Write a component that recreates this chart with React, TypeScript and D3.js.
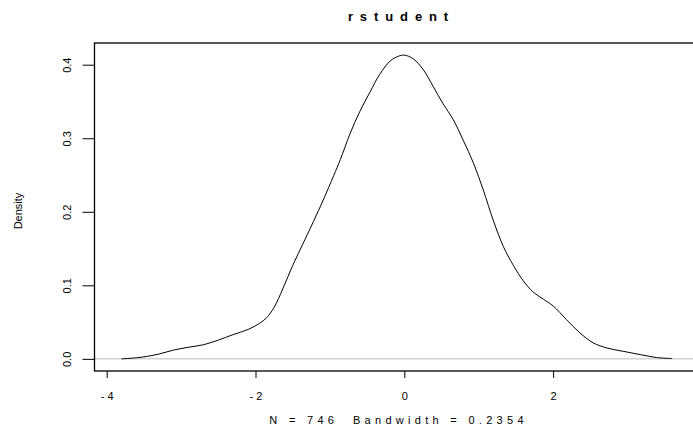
import * as d3 from "d3";
import { useEffect, useRef } from "react";

// density estimate (x, density)
const xs = [
  -3.8, -3.6, -3.45, -3.3, -3.1, -2.9, -2.7, -2.5, -2.3, -2.1, -1.95, -1.85,
  -1.75, -1.63, -1.5, -1.36, -1.22, -1.09, -0.95, -0.86, -0.73, -0.6, -0.46,
  -0.33, -0.19, -0.08, 0.0, 0.12, 0.26, 0.39, 0.52, 0.66, 0.79, 0.93, 1.06,
  1.2, 1.33, 1.46, 1.6, 1.73, 1.87, 2.0, 2.18, 2.36, 2.54, 2.72, 2.94, 3.17,
  3.39, 3.6,
];
const dens = [
  0.0, 0.0015, 0.0035, 0.0065, 0.012, 0.0158, 0.0192, 0.0255, 0.033, 0.04,
  0.048, 0.056, 0.07, 0.096, 0.127, 0.157, 0.187, 0.216, 0.249, 0.271, 0.306,
  0.336, 0.363, 0.387, 0.405, 0.4115, 0.413, 0.408, 0.3925, 0.37, 0.347, 0.325,
  0.2975, 0.266, 0.23, 0.187, 0.153, 0.128, 0.106, 0.091, 0.081, 0.072, 0.0533,
  0.0353, 0.0217, 0.0149, 0.0103, 0.0058, 0.0018, 0.0005,
];
const xTicks = [-4, -2, 0, 2];
const yTicks = [0, 0.1, 0.2, 0.3, 0.4];
const title = "rstudent";
const xLabel = "N = 746  Bandwidth = 0.2354";
const yLabel = "Density";

const W = 693;
const H = 431;
const left = 94.5;
const right = 694.5;
const top = 43;
const bottom = 371;
const font = "'Liberation Sans', Arial, sans-serif";

export default function App() {
  const xAxisRef = useRef<SVGGElement>(null);
  const yAxisRef = useRef<SVGGElement>(null);

  const x = d3.scaleLinear().domain([-4.164, 3.9]).range([left, right]);
  const y = d3.scaleLinear().domain([-0.0165, 0.4295]).range([bottom, top]);

  const pts = xs.map((v, i) => [v, dens[i]] as [number, number]);
  const line = d3
    .line<[number, number]>()
    .x((d) => x(d[0]))
    .y((d) => y(d[1]))
    .curve(d3.curveCatmullRom.alpha(0.5));

  useEffect(() => {
    const gx = d3.select(xAxisRef.current);
    gx.call(
      d3
        .axisBottom(x)
        .tickValues(xTicks)
        .tickSize(7)
        .tickFormat((d) => String(d))
    );
    gx.select(".domain").remove();
    gx.selectAll("line").attr("stroke", "#000").attr("stroke-width", 1);
    gx.selectAll("text")
      .attr("y", 29)
      .attr("dy", 0)
      .attr("dx", "1.5px")
      .attr("fill", "#000")
      .style("font-family", font)
      .style("font-size", "11px")
      .style("letter-spacing", "3px");

    const gy = d3.select(yAxisRef.current);
    gy.call(
      d3
        .axisLeft(y)
        .tickValues(yTicks)
        .tickSize(12)
        .tickFormat(d3.format(".1f"))
    );
    gy.select(".domain").remove();
    gy.selectAll("line").attr("stroke", "#000").attr("stroke-width", 1);
    gy.selectAll("text")
      .attr("x", 0)
      .attr("dy", 0)
      .attr("text-anchor", "middle")
      .attr("transform", "translate(-23.8,0) rotate(-90)")
      .attr("fill", "#000")
      .style("font-family", font)
      .style("font-size", "11px");
  });

  return (
    <svg
      width={W}
      height={H}
      style={{ position: "fixed", left: 0, top: 0, background: "#fff" }}
    >
      <rect x={0} y={0} width={W} height={H} fill="#fff" />
      <line
        x1={left}
        x2={right}
        y1={y(0)}
        y2={y(0)}
        stroke="#bebebe"
        strokeWidth={1}
      />
      <path d={line(pts) ?? ""} fill="none" stroke="#000" strokeWidth={1} />
      {/* box runs off the right edge, as in the original */}
      <rect
        x={left}
        y={top}
        width={710 - left}
        height={bottom - top}
        fill="none"
        stroke="#000"
        strokeWidth={1.3}
      />
      <g ref={xAxisRef} transform={`translate(0,${bottom})`} />
      <g ref={yAxisRef} transform={`translate(${left},0)`} />
      <text
        x={401.5}
        y={21}
        textAnchor="middle"
        fontFamily={font}
        fontWeight="bold"
        fontSize={13}
        letterSpacing="6.9px"
      >
        {title}
      </text>
      <text
        x={398.6}
        y={424}
        textAnchor="middle"
        fontFamily={font}
        fontSize={11}
        letterSpacing="4.3px"
        style={{ whiteSpace: "pre" }}
      >
        {xLabel}
      </text>
      <text
        transform="translate(21.5,211) rotate(-90)"
        textAnchor="middle"
        fontFamily={font}
        fontSize={11}
      >
        {yLabel}
      </text>
    </svg>
  );
}
